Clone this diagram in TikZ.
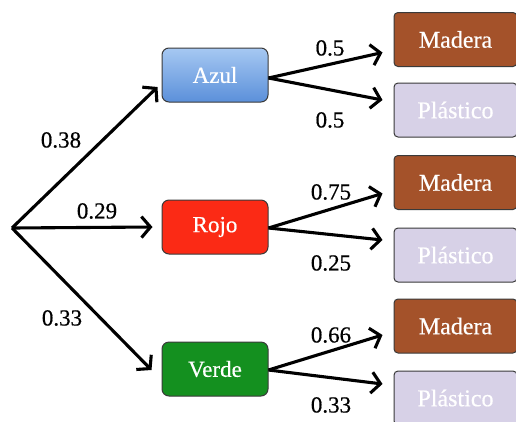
\documentclass[tikz,border=0pt]{standalone}
\usepackage{fontspec}
\setmainfont{Liberation Serif}
\newfontfamily\heavy[FakeBold=0.5]{Liberation Serif}
\usetikzlibrary{arrows.meta,calc}
\definecolor{azulT}{HTML}{A6C8F2}
\definecolor{azulB}{HTML}{5B90DA}
\definecolor{rojoF}{HTML}{FB2A15}
\definecolor{verdeF}{HTML}{14901F}
\definecolor{maderaF}{HTML}{A4522A}
\definecolor{plasticoF}{HTML}{D7D1E7}
\definecolor{edge}{HTML}{3A3A3A}
\begin{document}
\begin{tikzpicture}[x=1pt,y=-1pt,
  box/.style={draw=edge, line width=1pt, rounded corners=7pt, minimum width=106pt,
    minimum height=54pt, inner sep=0pt, text=white, font=\heavy\fontsize{23}{23}\selectfont},
  leaf/.style={draw=edge, line width=1pt, rounded corners=4pt, minimum width=123pt,
    minimum height=54pt, inner sep=0pt, text=white, font=\heavy\fontsize{24}{24}\selectfont},
  arr/.style={line width=3.1pt, -{Straight Barb[length=9pt,width=21pt]}},
  lab/.style={font=\heavy\fontsize{23}{23}\selectfont, inner sep=0pt}]
\useasboundingbox (0,0) rectangle (516,421);
\fill[white] (0,0) rectangle (516,421);

\coordinate (root) at (12,228);

\node[box, top color=azulT, bottom color=azulB] (azul) at (215,75) {Azul};
\node[box, fill=rojoF] (rojo) at (215,227) {Rojo};
\node[box, fill=verdeF] (verde) at (215,369) {Verde};

\node[leaf, fill=maderaF] (m1) at (455.5,39.5) {Madera};
\node[leaf, fill=plasticoF] (p1) at (455.5,110) {Plástico};
\node[leaf, fill=maderaF] (m2) at (455.5,182.5) {Madera};
\node[leaf, fill=plasticoF] (p2) at (455.5,255) {Plástico};
\node[leaf, fill=maderaF] (m3) at (455.5,326) {Madera};
\node[leaf, fill=plasticoF] (p3) at (455.5,398) {Plástico};

\draw[arr] (root) -- ([xshift=-4pt,yshift=-12pt]azul.west);
\draw[arr] (root) -- ([xshift=-9pt]rojo.west);
\draw[arr] (root) -- ([xshift=-10pt,yshift=-1pt]verde.west);

\draw[arr] ([yshift=-3pt]azul.east) -- ([xshift=-11pt,yshift=-13pt]m1.west);
\draw[arr] ([yshift=-3pt]azul.east) -- ([xshift=-11pt,yshift=10pt]p1.west);
\draw[arr] ([yshift=-1pt]rojo.east) -- ([xshift=-11pt,yshift=-11pt]m2.west);
\draw[arr] ([yshift=-1pt]rojo.east) -- ([xshift=-11pt,yshift=15pt]p2.west);
\draw[arr] ([yshift=-1pt]verde.east) -- ([xshift=-11pt,yshift=-9pt]m3.west);
\draw[arr] ([yshift=-1pt]verde.east) -- ([xshift=-11pt,yshift=14pt]p3.west);

\node[lab] (l1) at (61,140) {0.38};
\node[lab] (l2) at (97,211) {0.29};
\node[lab] (l3) at (62,318) {0.33};
\node[lab] (l4) at (330,48) {0.5};
\node[lab] (l5) at (330,120) {0.5};
\node[lab] (l6) at (331,192) {0.75};
\node[lab] (l7) at (331,263) {0.25};
\node[lab] (l8) at (331,335) {0.66};
\node[lab] (l9) at (331,405) {0.33};
\end{tikzpicture}
\end{document}
